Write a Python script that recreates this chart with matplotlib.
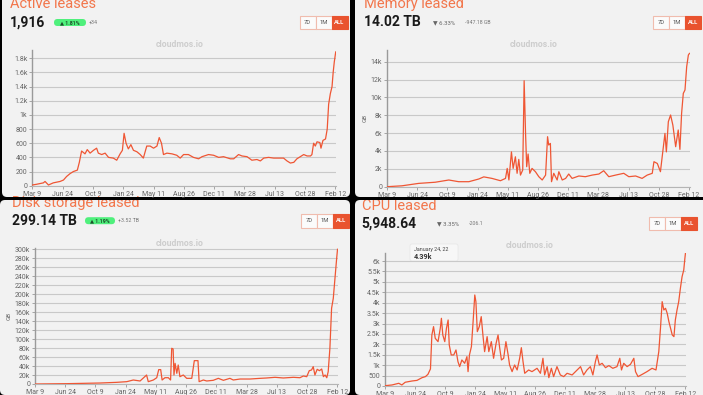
import matplotlib
matplotlib.use("Agg")
import matplotlib.pyplot as plt
from matplotlib.patches import FancyBboxPatch, Rectangle

W, H = 703, 395
FONT = ['Roboto', 'DejaVu Sans']
plt.rcParams['font.family'] = FONT

# ---------------- data ----------------
tick_labels = ["Mar 9", "Jun 24", "Oct 9", "Jan 24", "May 11", "Aug 26",
               "Dec 11", "Mar 28", "Jul 13", "Oct 28", "Feb 12"]
tick_step_days = 107

leases_days = [0, 15, 39, 45, 57, 74, 98, 110, 121, 133, 145, 159, 166, 174, 186, 194, 204, 216, 227, 233,
               245, 257, 269, 286, 298, 310, 318, 324, 331, 339, 348, 357, 369, 381, 392, 404, 416, 428, 440, 448,
               456, 463, 475, 493, 510, 522, 534, 551, 569, 587, 599, 622, 640, 658, 675, 699, 711, 728, 740, 758,
               775, 793, 805, 817, 834, 852, 870, 887, 899, 911, 923, 934, 946, 958, 970, 982, 987, 993, 999, 1005,
               1015, 1019, 1026, 1035, 1041, 1046, 1052, 1058, 1062, 1066, 1071]
leases_vals = [10, 20, 40, 60, 10, 40, 60, 80, 130, 170, 200, 220, 330, 490, 450, 510, 460, 500, 530, 460,
               440, 460, 400, 390, 360, 450, 500, 740, 600, 520, 580, 500, 480, 440, 390, 560, 560, 530, 560, 680,
               600, 440, 460, 450, 430, 390, 440, 440, 400, 380, 410, 440, 430, 400, 410, 380, 380, 440, 420, 410,
               360, 370, 350, 390, 400, 390, 390, 390, 350, 320, 330, 380, 410, 440, 420, 420, 440, 600, 560, 620,
               610, 530, 640, 660, 800, 1150, 1300, 1400, 1600, 1750, 1890]

memory_days = [0, 53, 112, 171, 219, 254, 290, 325, 343, 372, 402, 420, 426, 432, 441, 447, 455, 461, 467, 473,
               481, 486, 491, 495, 500, 506, 514, 526, 538, 550, 562, 569, 573, 579, 583, 591, 603, 609, 621, 633,
               644, 656, 680, 703, 727, 751, 768, 786, 810, 839, 857, 881, 904, 922, 940, 946, 958, 969, 978, 985,
               990, 997, 1005, 1013, 1023, 1032, 1038, 1044, 1050, 1056, 1062, 1068, 1072]
memory_vals = [0, 100, 370, 500, 750, 560, 560, 860, 1100, 930, 670, 930, 2050, 750, 3900, 2050, 3350, 1500, 3060, 1300,
               1870, 11870, 5970, 2240, 3660, 1500, 2050, 1680, 1120, 750, 1300, 5600, 4670, 4850, 560, 1500, 750, 1680, 750, 930,
               1420, 930, 1200, 1120, 1300, 1420, 1790, 1120, 1300, 1500, 1120, 1200, 930, 1300, 1500, 2800, 2600, 1680, 4100, 5970,
               3900, 7280, 8030, 6900, 4480, 6350, 4180, 8210, 10450, 10830, 13440, 14750, 14930]

disk_days = [0, 112, 230, 289, 325, 348, 372, 395, 401, 419, 431, 438, 445, 450, 460, 472, 480, 484, 489, 492,
             496, 502, 507, 513, 525, 537, 555, 564, 577, 581, 596, 608, 631, 649, 667, 690, 702, 726, 761, 797,
             820, 850, 879, 915, 938, 950, 962, 971, 979, 985, 991, 999, 1007, 1015, 1021, 1027, 1033, 1038, 1044, 1050,
             1056, 1062, 1068, 1071]
disk_vals = [0, 740, 2200, 3700, 5200, 8900, 6700, 20000, 5200, 8900, 14000, 32000, 32000, 8900, 14000, 14000, 8900, 79500, 78000, 20000,
             46000, 23800, 42300, 16300, 20000, 12600, 12600, 52000, 52000, 5200, 8900, 6700, 8200, 12600, 8200, 12600, 8900, 11100, 11100, 12600,
             13400, 14900, 13400, 14900, 14000, 17800, 16300, 29700, 31200, 38600, 20000, 32700, 29700, 33400, 16300, 20000, 14000, 27500, 79500, 168600,
             190800, 235400, 280000, 300000]

cpu_days = [0, 24, 48, 59, 71, 95, 113, 131, 143, 152, 161, 166, 172, 178, 188, 196, 200, 205, 212, 218,
            224, 228, 235, 244, 252, 259, 265, 273, 283, 291, 295, 300, 307, 313, 319, 323, 328, 335, 342, 348,
            354, 363, 369, 378, 386, 395, 402, 408, 414, 422, 430, 438, 443, 452, 461, 470, 479, 485, 491, 497,
            511, 523, 541, 553, 562, 568, 577, 583, 592, 600, 612, 624, 636, 648, 666, 678, 696, 707, 719, 731,
            740, 749, 755, 763, 773, 785, 797, 811, 826, 836, 842, 850, 862, 874, 886, 892, 901, 916, 933, 951,
            965, 975, 981, 987, 993, 999, 1005, 1011, 1017, 1023, 1029, 1034, 1040, 1046, 1052, 1058, 1064, 1068, 1070]
cpu_vals = [16, 50, 130, 50, 180, 240, 270, 400, 450, 560, 820, 2450, 2850, 2290, 2130, 2770, 3250, 2450, 2130, 2770,
            3170, 1970, 1490, 1490, 1730, 1170, 930, 1250, 1090, 1410, 690, 1490, 1890, 3090, 4370, 4050, 2610, 2850, 3330, 2450,
            1650, 2370, 1650, 2130, 1330, 2050, 2450, 1810, 1250, 1330, 2130, 1490, 1010, 690, 1010, 770, 1330, 1840, 1170, 610,
            770, 690, 850, 610, 1330, 530, 930, 400, 850, 450, 930, 530, 450, 610, 530, 690, 930, 530, 770, 930,
            530, 1170, 1490, 1010, 1090, 880, 980, 850, 930, 1330, 770, 1090, 930, 1040, 1330, 690, 450, 560, 690, 850,
            770, 1650, 2770, 4050, 3650, 3730, 3490, 3090, 2770, 2450, 2370, 3170, 3650, 4050, 4690, 5250, 5570, 6130, 6370]

# ---------------- styling ----------------
BG = '#f2f2f2'
LINE = '#ef5634'
TITLE_C = '#f2764b'
GRID = '#c9c9c9'
TICKC = '#666666'
TITLE_FS = 10.5
VALUE_FS = 10

fig = plt.figure(figsize=(W / 100, H / 100), dpi=100, facecolor='black')
bg = fig.add_axes([0, 0, 1, 1])
bg.set_xlim(0, W)
bg.set_ylim(H, 0)
bg.axis('off')
bg.set_facecolor('none')


def card(x0, y0, x1, y1):
    p = FancyBboxPatch((x0, y0), x1 - x0, y1 - y0, boxstyle='round,pad=0,rounding_size=5',
                       fc=BG, ec='none', zorder=0)
    bg.add_patch(p)
    return p


def txt(x, y, s, clip=None, **kw):
    t = bg.text(x, y, s, **kw)
    if clip is not None:
        t.set_clip_on(True)
        t.set_clip_path(clip)
    return t


def pill(x0, yc, w, s, positive):
    if positive:
        p = FancyBboxPatch((x0, yc - 3.5), w, 7, boxstyle='round,pad=0,rounding_size=3.5',
                           fc='#4ff07c', ec='none', zorder=2)
        bg.add_patch(p)
        txt(x0 + w / 2, yc, s, fontsize=3.8, color='#1d4d2a', ha='center', va='center',
            fontweight='bold', zorder=3)
    else:
        txt(x0, yc, s, fontsize=4.3, color='#666666', ha='left', va='center', zorder=3)


def buttons(x0, y0, y1, w=16):
    labels = ['7D', '1M', 'ALL']
    for i, lab in enumerate(labels):
        xa = x0 + i * w
        fc = '#e9532f' if lab == 'ALL' else '#fbfbfb'
        ec = '#e9532f' if lab == 'ALL' else '#f0bcae'
        r = Rectangle((xa, y0), w, y1 - y0, fc=fc, ec=ec, lw=0.8, zorder=2)
        bg.add_patch(r)
        txt(xa + w / 2, (y0 + y1) / 2, lab, fontsize=4.2, ha='center', va='center',
            color='white' if lab == 'ALL' else '#555555',
            fontweight='bold' if lab == 'ALL' else 'normal', zorder=3)


def plot_panel(x_left, x_right, y_zero, y_top, ymax, days, vals, yticks, ylabels, unit=None):
    ax = fig.add_axes([x_left / W, 1 - y_zero / H, (x_right - x_left) / W, (y_zero - y_top) / H])
    ax.set_facecolor('none')
    ax.set_xlim(0, 1072)
    ax.set_ylim(0, ymax)
    ax.plot(days, vals, color=LINE, lw=0.9, zorder=3, solid_joinstyle='round')
    ax.set_yticks(yticks)
    ax.set_yticklabels(ylabels)
    ax.set_xticks([i * tick_step_days for i in range(len(tick_labels))])
    ax.set_xticklabels(tick_labels)
    ax.grid(axis='y', color=GRID, lw=0.8)
    ax.set_axisbelow(True)
    for s in ['top', 'right']:
        ax.spines[s].set_visible(False)
    ax.spines['left'].set_color('#9a9a9a')
    ax.spines['left'].set_linewidth(1.0)
    ax.spines['bottom'].set_color('#b5b5b5')
    ax.spines['bottom'].set_linewidth(0.8)
    ax.tick_params(axis='both', labelsize=5, length=2, width=0.6, pad=1.5)
    ax.tick_params(axis='x', colors='#999999', labelcolor=TICKC)
    ax.tick_params(axis='y', colors='#999999', labelcolor=TICKC)
    if unit:
        ax.set_ylabel(unit, fontsize=4.5, color=TICKC, labelpad=2)
    return ax


def kfmt(v):
    if v == 0:
        return '0'
    if v < 1000:
        return str(int(v))
    k = v / 1000
    if abs(k - round(k)) < 1e-9:
        return f'{int(round(k))}k'
    return f'{k:g}k'


# ---------- cards ----------
c_tl = card(2, -10, 350, 197)
c_tr = card(355, -10, 713, 197)
c_bl = card(0, 200, 350, 395)
c_br = card(355, 200, 713, 395)

# ---------- top-left: Active leases ----------
txt(10, 8.3, 'Active leases', clip=c_tl, fontsize=TITLE_FS, color=TITLE_C, va='baseline')
txt(9.5, 22.3, '1,916', fontsize=VALUE_FS, fontweight='bold', color='#1a1a1a', va='center')
pill(54, 22.5, 32, '▲ 1.81%', True)
txt(89, 22.5, '+34', fontsize=3.8, color='#777777', va='center')
buttons(299.5, 16, 29)
txt(180, 44.5, 'cloudmos.io', fontsize=6.2, fontweight='bold', color='#cdcdcd', ha='center', va='center')

# ---------- top-right: Memory leased ----------
txt(364, 8.3, 'Memory leased', clip=c_tr, fontsize=TITLE_FS, color=TITLE_C, va='baseline')
txt(363.5, 22.3, '14.02 TB', fontsize=VALUE_FS, fontweight='bold', color='#1a1a1a', va='center')
pill(433, 22.5, 0, '▼ 6.33%', False)
txt(465, 22.5, '-947.18 GB', fontsize=3.8, color='#777777', va='center')
buttons(653, 16, 29)
txt(534, 44.5, 'cloudmos.io', fontsize=6.2, fontweight='bold', color='#cdcdcd', ha='center', va='center')

# ---------- bottom-left: Disk storage leased ----------
txt(12, 207.3, 'Disk storage leased', clip=c_bl, fontsize=TITLE_FS, color=TITLE_C, va='baseline')
txt(11.5, 221, '299.14 TB', fontsize=VALUE_FS, fontweight='bold', color='#1a1a1a', va='center')
pill(85, 220.7, 30, '▲ 1.19%', True)
txt(118, 220.7, '+3.52 TB', fontsize=3.8, color='#777777', va='center')
buttons(301, 214, 227.5)
txt(180, 243, 'cloudmos.io', fontsize=6.2, fontweight='bold', color='#cdcdcd', ha='center', va='center')

# ---------- bottom-right: CPU leased ----------
txt(362, 210, 'CPU leased', clip=c_br, fontsize=TITLE_FS, color=TITLE_C, va='baseline')
txt(361.5, 223.5, '5,948.64', fontsize=VALUE_FS, fontweight='bold', color='#1a1a1a', va='center')
pill(437, 223.5, 0, '▼ 3.35%', False)
txt(469, 223.5, '-206.1', fontsize=3.8, color='#777777', va='center')
buttons(649, 217, 230)
txt(530, 246, 'cloudmos.io', fontsize=6.2, fontweight='bold', color='#cdcdcd', ha='center', va='center')
tip = FancyBboxPatch((410, 244), 48, 17, boxstyle='round,pad=0,rounding_size=2',
                     fc='#f7f7f7', ec='#e6e6e6', lw=0.5, zorder=1)
bg.add_patch(tip)
txt(414, 249.5, 'January 24, 22', fontsize=3.8, color='#444444', va='center', zorder=2)
txt(414, 257.3, '4.39k', fontsize=5.2, fontweight='bold', color='#333333', va='center', zorder=2)

# black separators between the screenshots
bg.add_patch(Rectangle((-5, 197), W + 10, 3, fc='black', ec='none', zorder=20))
bg.add_patch(Rectangle((350, -5), 5, H + 10, fc='black', ec='none', zorder=20))

# ---------- charts ----------
yt = list(range(0, 2000, 200))
plot_panel(32.3, 336.0, 185.7, 50.0, 1917, leases_days, leases_vals, yt, [kfmt(v) for v in yt])
yt = list(range(0, 16000, 2000))
plot_panel(387.0, 689.5, 186.7, 50.0, 15310, memory_days, memory_vals, yt, [kfmt(v) for v in yt], unit='GB')
yt = list(range(0, 320000, 20000))
plot_panel(35.0, 337.8, 384.0, 247.7, 303500, disk_days, disk_vals, yt, [kfmt(v) for v in yt], unit='GB')
yt = list(range(0, 6500, 500))
plot_panel(385.3, 686.0, 386.0, 252.7, 6400, cpu_days, cpu_vals, yt, [kfmt(v) for v in yt])

fig.savefig('out.png', dpi=100, facecolor='black')
